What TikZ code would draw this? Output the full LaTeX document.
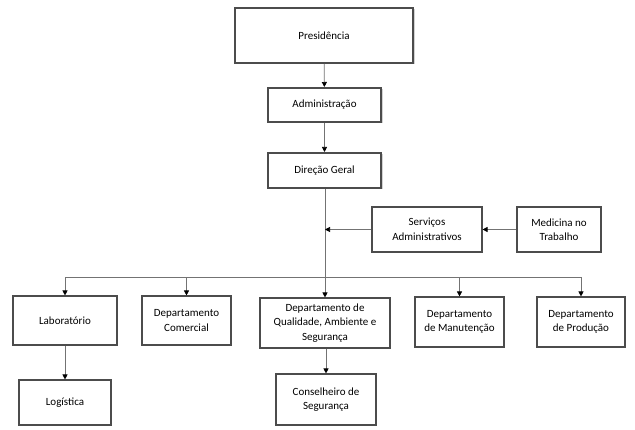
\documentclass[tikz,border=0pt]{standalone}
\usepackage{fontspec}
\setmainfont{Carlito}
\usetikzlibrary{arrows.meta,shadows}
\colorlet{box-line}{black!70}
\colorlet{link-line}{black!55}

\begin{document}
\begin{tikzpicture}[x=1pt,y=-1pt,
	unit/.style={draw=box-line,line width=1.1pt,fill=white,align=center,
		font=\fontsize{11}{14.5}\selectfont,inner sep=0pt},
	topunit/.style={unit,line width=2pt,drop shadow={shadow xshift=1.5pt,shadow yshift=-1.5pt,fill=black!35}},
	link/.style={draw=link-line,line width=0.7pt,-{Triangle[length=5pt,width=5pt,color=black]}}]
	\useasboundingbox (0,0) rectangle (635,430);
	% top of the chart
	\node (pres) [topunit,minimum width=178pt,minimum height=55pt] at (324,35.5) {Presidência};
	\node (admin) [topunit,minimum width=113pt,minimum height=34pt] at (324.5,105) {Administração};
	\node (direcao) [topunit,minimum width=113pt,minimum height=35pt] at (324.5,170.5) {Direção Geral};
	% staff units
	\node (servicos) [unit,minimum width=110pt,minimum height=45pt] at (427,229.5) {Serviços\\Administrativos};
	\node (medicina) [unit,minimum width=84pt,minimum height=45pt] at (559,229.5) {Medicina no\\Trabalho};
	% departments
	\node (lab) [unit,minimum width=104pt,minimum height=49pt] at (65,320.5) {Laboratório};
	\node (comercial) [unit,minimum width=89pt,minimum height=49pt] at (186.5,320.5) {Departamento\\Comercial};
	\node (qualidade) [unit,minimum width=130pt,minimum height=50pt] at (325,323) {Departamento de\\Qualidade, Ambiente e\\Segurança};
	\node (manutencao) [unit,minimum width=89pt,minimum height=50pt] at (459.5,322) {Departamento\\de Manutenção};
	\node (producao) [unit,minimum width=88pt,minimum height=50pt] at (581,322) {Departamento\\de Produção};
	\node (logistica) [unit,minimum width=92pt,minimum height=45pt] at (65,402.5) {Logística};
	\node (conselheiro) [unit,minimum width=100pt,minimum height=51pt] at (326,399.5) {Conselheiro de\\Segurança};
	% connectors
	\coordinate (bus) at (325,277);
	\draw[link] (pres) -- (admin);
	\draw[link] (admin) -- (direcao);
	\draw[link] (direcao.south -| qualidade.north) -- (qualidade.north);
	\draw[link] (servicos.west) -- (servicos.west -| qualidade.north);
	\draw[link] (medicina) -- (servicos);
	\draw[link] (bus) -| (lab);
	\draw[link] (bus) -| (comercial);
	\draw[link] (bus) -| (manutencao);
	\draw[link] (bus) -| (producao);
	\draw[link] (lab) -- (logistica);
	\draw[link] (qualidade.south -| conselheiro.north) -- (conselheiro);
\end{tikzpicture}
\end{document}
